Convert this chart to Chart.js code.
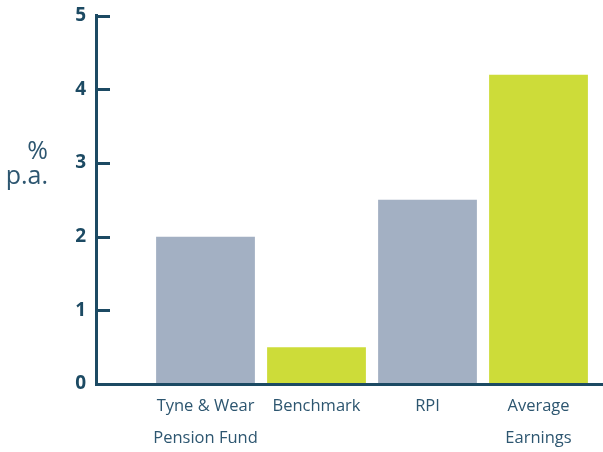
<!DOCTYPE html>
<html>
<head>
<meta charset="utf-8">
<script src="https://cdn.jsdelivr.net/npm/chart.js@4.4.1/dist/chart.umd.min.js"></script>
<style>
  html, body { margin: 0; padding: 0; background: #fff; }
  #wrap { width: 603px; height: 452px; position: relative; }
</style>
</head>
<body>
<div id="wrap"><canvas id="myChart"></canvas></div>
<script>
    "use strict";

    var categories = [['Tyne & Wear', 'Pension Fund'], 'Benchmark', 'RPI', ['Average', 'Earnings']];
    var values = [2.0, 0.5, 2.5, 4.2];
    var barColours = ['#a3b0c3', '#cddc39', '#a3b0c3', '#cddc39'];
    var yTicks = [0, 1, 2, 3, 4, 5];
    var unitLabel = ['%', 'p.a.'];

    var axisColour = '#1c4a63';
    var textColour = '#2d5670';

    // small tick marks pointing into the plot, plus the "% p.a." caption
    var axisDecor = {
        id: 'axisDecor',
        afterDraw: function(chart){
            var ctx = chart.ctx;
            var y = chart.scales.y;
            var left = chart.chartArea.left;
            ctx.save();
            ctx.strokeStyle = axisColour;
            ctx.lineWidth = 3;
            yTicks.forEach(function(t){
                var py = Math.round(y.getPixelForValue(t)) + 0.5;
                ctx.beginPath();
                ctx.moveTo(left, py);
                ctx.lineTo(left + 14, py);
                ctx.stroke();
            });
            ctx.fillStyle = textColour;
            ctx.font = '25px "Open Sans", sans-serif';
            ctx.textAlign = 'right';
            ctx.textBaseline = 'alphabetic';
            ctx.fillText(unitLabel[0], 48, 159);
            ctx.fillText(unitLabel[1], 48, 184);
            ctx.restore();
        }
    };

    var points = values.map(function(v, i){ return {x: i, y: v}; });

    var ctx = document.getElementById('myChart').getContext('2d');
    var myChart = new Chart(ctx, {
        type: 'bar',
        data: {
            datasets: [{
                data: points,
                backgroundColor: barColours,
                borderWidth: 0,
                barPercentage: 0.89,
                categoryPercentage: 1
            }]
        },
        options: {
            responsive: true,
            maintainAspectRatio: false,
            animation: false,
            layout: { padding: { top: 13, right: 0, left: 0, bottom: 0 } },
            plugins: {
                legend: { display: false },
                tooltip: { enabled: false }
            },
            scales: {
                x: {
                    type: 'linear',
                    offset: false,
                    min: -0.9865,
                    max: 3.581,
                    afterBuildTicks: function(scale){
                        scale.ticks = categories.map(function(c, i){ return {value: i}; });
                    },
                    afterFit: function(scale){ scale.height = 68; },
                    grid: { display: true, drawOnChartArea: false, drawTicks: false },
                    border: { display: true, color: axisColour, width: 3, z: 1 },
                    ticks: {
                        autoSkip: false,
                        maxRotation: 0,
                        padding: 6,
                        color: textColour,
                        font: { family: '"Open Sans", sans-serif', size: 16.5, lineHeight: 1.95 },
                        callback: function(value){ return categories[value]; }
                    }
                },
                y: {
                    min: 0,
                    max: 5,
                    afterBuildTicks: function(scale){
                        scale.ticks = yTicks.map(function(t){ return {value: t}; });
                    },
                    afterFit: function(scale){ scale.width = 96; },
                    grid: { display: true, drawOnChartArea: false, drawTicks: false },
                    border: { display: true, color: axisColour, width: 3, z: 1 },
                    ticks: {
                        padding: 10,
                        color: axisColour,
                        font: { family: '"Open Sans", sans-serif', size: 19, weight: 'bold', lineHeight: 0.6 }
                    }
                }
            }
        },
        plugins: [axisDecor]
    });
</script>
</body>
</html>
